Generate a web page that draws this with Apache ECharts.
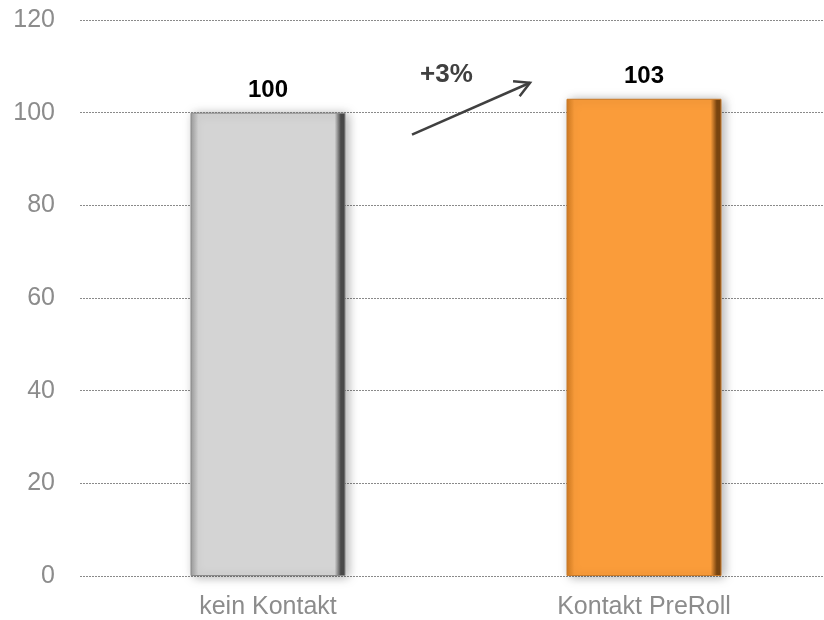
<!DOCTYPE html>
<html>
<head>
<meta charset="utf-8">
<script src="https://cdn.jsdelivr.net/npm/echarts@6/dist/echarts.min.js"></script>
<style>
  html, body { margin: 0; padding: 0; background: #fff; }
  #main { width: 824px; height: 620px; }
</style>
</head>
<body>
<div id="main"></div>
<script>
// daten
var categories = ['kein Kontakt', 'Kontakt PreRoll']
var values = [100, 103]
var deltaText = '+3%'

var chart = echarts.init(document.getElementById('main'))

// balken-stil (abgeschrägte kante nachgebaut mit verlauf)
function bevel(edge, face, dark) {
    return new echarts.graphic.LinearGradient(0, 0, 1, 0, [
        { offset: 0, color: edge },
        { offset: 0.05, color: face },
        { offset: 0.93, color: face },
        { offset: 0.97, color: dark },
        { offset: 1, color: dark }
    ])
}
var barStyles = [
    { color: bevel('#9a9a9a', '#d4d4d4', '#4a4a4a'), borderColor: '#8a8a8a' },
    { color: bevel('#d07a20', '#fa9c3a', '#7a4510'), borderColor: '#c87a2a' }
]
var font = 'Liberation Sans, Arial'

var option = {
    animation: false,
    grid: { left: 80, width: 752, top: 20, bottom: 44, outerBoundsMode: 'none', containLabel: false },
    xAxis: {
        type: 'category',
        data: categories,
        axisLine: { show: false },
        axisTick: { show: false },
        axisLabel: { color: '#8c8c8c', fontSize: 25, fontFamily: font, margin: 19 }
    },
    yAxis: {
        type: 'value',
        min: 0,
        max: 120,
        interval: 20,
        axisLine: { show: false },
        axisTick: { show: false },
        axisLabel: { color: '#8c8c8c', fontSize: 25, fontFamily: font, margin: 25 },
        splitLine: { lineStyle: { color: '#8a8a8a', type: [2, 1], width: 1 } }
    },
    series: [{
        type: 'bar',
        barWidth: 155,
        data: values.map(function (v, i) {
            return {
                value: v,
                itemStyle: {
                    color: barStyles[i].color,
                    borderColor: barStyles[i].borderColor,
                    borderWidth: 1,
                    shadowBlur: 10,
                    shadowColor: 'rgba(0,0,0,0.3)',
                    shadowOffsetX: 3,
                    shadowOffsetY: 1
                }
            }
        }),
        label: {
            show: true,
            position: 'top',
            distance: 10,
            color: '#000',
            fontSize: 24,
            fontWeight: 'bold',
            fontFamily: font
        }
    }]
}
chart.setOption(option)

// pfeil und prozent-angabe
var p0 = chart.convertToPixel({ gridIndex: 0 }, [0, values[0]])
var p1 = chart.convertToPixel({ gridIndex: 0 }, [1, values[1]])
var mid = (p0[0] + p1[0]) / 2
var x1 = mid - 44, y1 = p0[1] + 22
var x2 = mid + 74, y2 = p1[1] - 16
var ang = Math.atan2(y2 - y1, x2 - x1)
var head = 17
function hp(a) { return [x2 - head * Math.cos(ang + a), y2 - head * Math.sin(ang + a)] }
chart.setOption({
    graphic: [
        { type: 'line', shape: { x1: x1, y1: y1, x2: x2, y2: y2 }, style: { stroke: '#404040', lineWidth: 2.5 } },
        { type: 'polyline', shape: { points: [hp(0.5), [x2, y2], hp(-0.5)] }, style: { stroke: '#404040', lineWidth: 2.5, fill: null } },
        {
            type: 'text', x: mid - 36, y: p1[1] - 37,
            style: { text: deltaText, fill: '#404040', font: 'bold 26px Liberation Sans, Arial' }
        }
    ]
})
</script>
</body>
</html>
